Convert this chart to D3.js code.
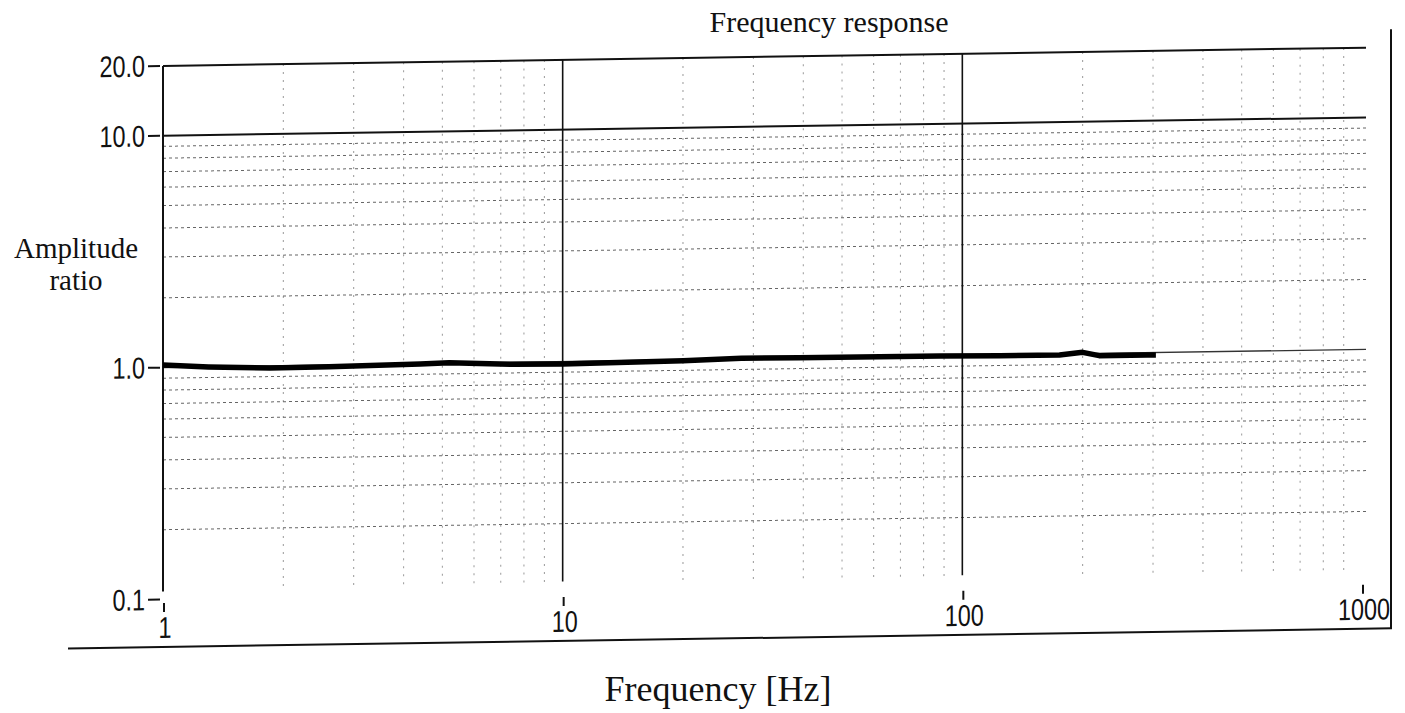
<!DOCTYPE html>
<html><head><meta charset="utf-8">
<script src="https://cdn.jsdelivr.net/npm/d3@7"></script>
<style>body{margin:0;background:#fff}</style>
</head><body><svg id="c" width="1405" height="713" xmlns="http://www.w3.org/2000/svg"></svg>
<script>
// ---- data ----
const freqs = [1, 1.3, 1.85, 2.6, 4.4, 5.2, 7.5, 10, 20, 28, 39, 88, 124, 175, 200, 220, 290, 305];
const amps  = [1.025, 1.0, 0.98, 0.984, 0.997, 1.005, 0.98, 0.976, 0.99, 1.005, 1.002, 0.998, 0.992, 0.99, 1.013, 0.978, 0.976, 0.976];
const xTickValues = [1, 10, 100, 1000];
const xTickLabels = ["1", "10", "100", "1000"];
const yTickValues = [0.1, 1, 10, 20];
const yTickLabels = ["0.1", "1.0", "10.0", "20.0"];
const xMinor = [2,3,4,5,6,7,8,9,20,30,40,50,60,70,80,90,200,300,400,500,600,700,800,900];
const yMinor = [0.2,0.3,0.4,0.5,0.6,0.7,0.8,0.9,2,3,4,5,6,7,8,9];
const titleText = "Frequency response";
const xTitleText = "Frequency [Hz]";
const yTitleLines = ["Amplitude", "ratio"];

// ---- drawing ----
const svg = d3.select("#c");
const x = d3.scaleLog().domain([1, 1000]).range([163, 1362]);
const y = d3.scaleLog().domain([0.1, 20]).range([599.5, 65.9]);
const serif = "'Liberation Serif','Times New Roman',serif";
const sans = "'Liberation Sans',Arial,sans-serif";

const g = svg.append("g").attr("transform", "translate(163,0) skewY(-0.87) translate(-163,0)");

// minor vertical grid
g.selectAll("line.vmin").data(xMinor).join("line")
  .attr("x1", d => x(d)).attr("x2", d => x(d))
  .attr("y1", y(20)).attr("y2", y(0.1) - 10)
  .attr("stroke", "#999").attr("stroke-width", 1).attr("stroke-dasharray", "2,6");
// minor horizontal grid
g.selectAll("line.hmin").data(yMinor).join("line")
  .attr("x1", x(1)).attr("x2", x(1000) + 4)
  .attr("y1", d => y(d)).attr("y2", d => y(d))
  .attr("stroke", "#666").attr("stroke-width", 1).attr("stroke-dasharray", "3,3");
// 1.0 line
g.append("line").attr("x1", x(1)).attr("x2", x(1000) + 4).attr("y1", y(1)).attr("y2", y(1))
  .attr("stroke", "#333").attr("stroke-width", 1.3);
// major horizontal lines 10 and 20
g.selectAll("line.hmaj").data([10, 20]).join("line")
  .attr("x1", x(1)).attr("x2", x(1000) + 4)
  .attr("y1", d => y(d)).attr("y2", d => y(d))
  .attr("stroke", "#111").attr("stroke-width", 2);
// major vertical lines 10 and 100
g.selectAll("line.vmaj").data([10, 100]).join("line")
  .attr("x1", d => x(d)).attr("x2", d => x(d))
  .attr("y1", y(20)).attr("y2", y(0.1) - 12)
  .attr("stroke", "#111").attr("stroke-width", 1.6);
// left axis
g.append("line").attr("x1", x(1)).attr("x2", x(1)).attr("y1", y(20)).attr("y2", y(0.1) - 8)
  .attr("stroke", "#111").attr("stroke-width", 2);

// y ticks + labels
g.selectAll("line.yt").data(yTickValues).join("line")
  .attr("x1", 148).attr("x2", 160).attr("y1", d => y(d)).attr("y2", d => y(d))
  .attr("stroke", "#111").attr("stroke-width", 2);
g.selectAll("text.yl").data(yTickValues).join("text")
  .attr("transform", d => `translate(145,${y(d) + 10.5}) scale(0.78,1)`)
  .attr("text-anchor", "end").attr("font-family", sans).attr("font-size", 30).attr("fill", "#111")
  .text((d, i) => yTickLabels[i]);

// x ticks + labels
g.selectAll("line.xt").data(xTickValues).join("line")
  .attr("x1", d => x(d) + 1).attr("x2", d => x(d) + 1).attr("y1", 603).attr("y2", 612)
  .attr("stroke", "#111").attr("stroke-width", 2);
g.selectAll("text.xl").data(xTickValues).join("text")
  .attr("transform", d => `translate(${x(d) + 2},638) scale(0.78,1)`)
  .attr("text-anchor", "middle").attr("font-family", sans).attr("font-size", 30).attr("fill", "#111")
  .text((d, i) => xTickLabels[i]);

// data line
const pts = freqs.map((f, i) => ({f, a: amps[i]}));
g.append("path").datum(pts)
  .attr("d", d3.line().x(d => x(d.f)).y(d => y(d.a)))
  .attr("fill", "none").attr("stroke", "#000").attr("stroke-width", 5.5).attr("stroke-linejoin", "round");

// outer frame (bottom and right)
g.append("line").attr("x1", 68).attr("x2", 1392).attr("y1", 647).attr("y2", 647)
  .attr("stroke", "#111").attr("stroke-width", 2);
g.append("line").attr("x1", 1391).attr("x2", 1391).attr("y1", 48).attr("y2", 647)
  .attr("stroke", "#111").attr("stroke-width", 2);

// titles
svg.append("text").attr("x", 829).attr("y", 32).attr("text-anchor", "middle")
  .attr("font-family", serif).attr("font-size", 30).attr("fill", "#111").text(titleText);
svg.append("text").attr("x", 718).attr("y", 701).attr("text-anchor", "middle")
  .attr("font-family", serif).attr("font-size", 36).attr("fill", "#111").text(xTitleText);
const yt = svg.append("text").attr("text-anchor", "middle")
  .attr("font-family", serif).attr("font-size", 29).attr("fill", "#111");
yt.selectAll("tspan").data(yTitleLines).join("tspan")
  .attr("x", 76).attr("y", (d, i) => 258 + i * 32).text(d => d);
</script></body></html>
